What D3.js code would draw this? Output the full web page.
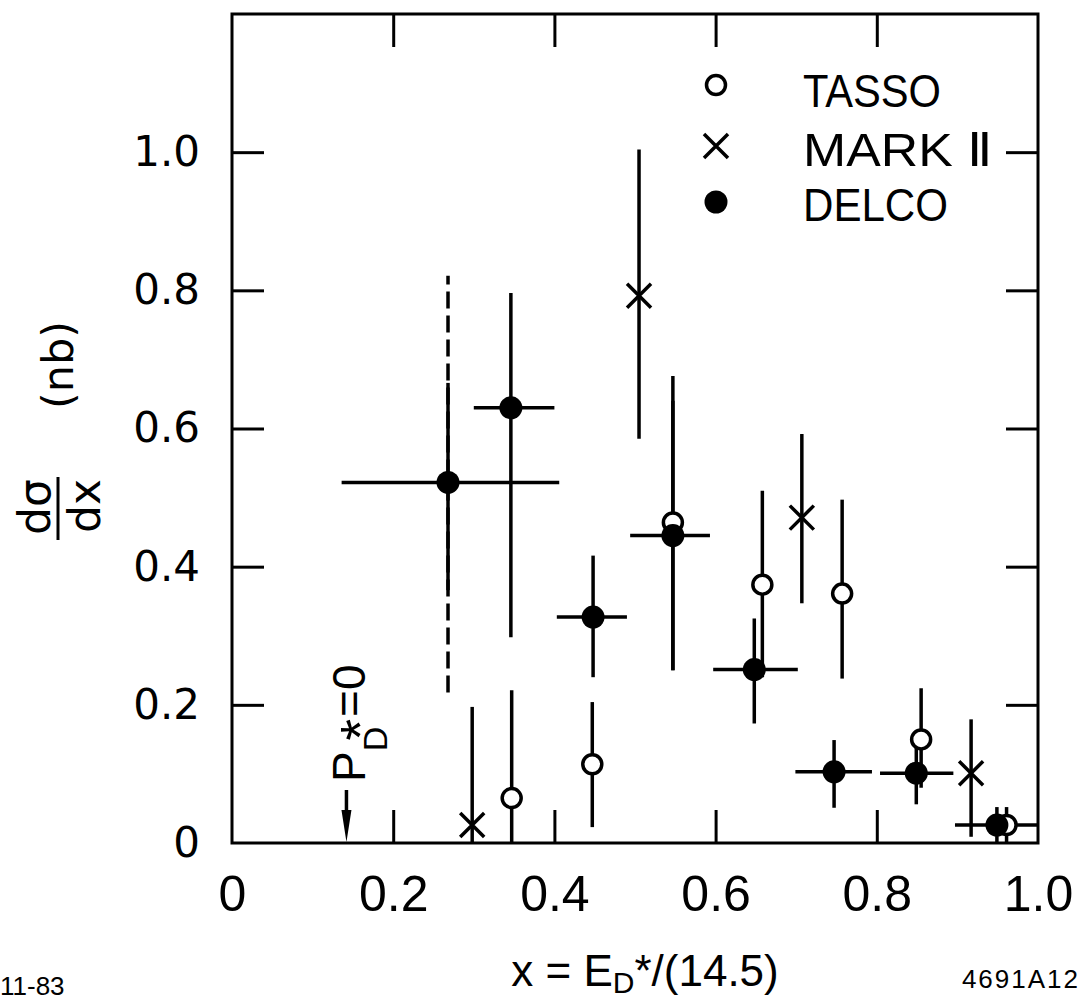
<!DOCTYPE html>
<html>
<head>
<meta charset="utf-8">
<script src="https://cdn.jsdelivr.net/npm/d3@7"></script>
<style>
  body { margin: 0; background: #fff; }
  text { fill: #000; }
</style>
</head>
<body>
<div id="chart"></div>
<script>
// tick values
var xTickVals = [0.2, 0.4, 0.6, 0.8];
var xLabelVals = [0, 0.2, 0.4, 0.6, 0.8, 1.0];
var yTickVals = [0.2, 0.4, 0.6, 0.8, 1.0];
var yLabelVals = [0, 0.2, 0.4, 0.6, 0.8, 1.0];

// TASSO (open circles)
var tassoX  = [0.347, 0.447, 0.547, 0.658, 0.757, 0.855, 0.961];
var tassoY  = [0.065, 0.114, 0.464, 0.374, 0.361, 0.150, 0.026];
var tassoLo = [0.0,   0.023, 0.25,  0.24,  0.238, 0.08,  0.0];
var tassoHi = [0.221, 0.204, 0.676, 0.51,  0.497, 0.224, 0.052];

// MARK II (crosses)
var markX  = [0.298, 0.505, 0.707, 0.917];
var markY  = [0.026, 0.792, 0.471, 0.101];
var markLo = [0.0,   0.585, 0.347, 0.009];
var markHi = [0.197, 1.004, 0.592, 0.179];

// DELCO (filled circles)
var delcoX   = [0.268, 0.346, 0.448, 0.547, 0.648, 0.747, 0.849, 0.949];
var delcoY   = [0.522, 0.630, 0.327, 0.445, 0.251, 0.103, 0.101, 0.026];
var delcoLo  = [0.366, 0.298, 0.240, 0.25,  0.173, 0.051, 0.056, 0.0];
var delcoHi  = [0.666, 0.796, 0.416, 0.64,  0.325, 0.149, 0.145, 0.052];
var delcoXLo = [0.136, 0.300, 0.403, 0.494, 0.597, 0.699, 0.804, 0.897];
var delcoXHi = [0.406, 0.400, 0.490, 0.593, 0.702, 0.794, 0.895, 1.0];
// dashed extension on the first DELCO point
var delcoDashLo = [0.218];
var delcoDashHi = [0.821];

var legendNames = ["TASSO", "MARK \u2161", "DELCO"];
var arrowX = 0.142;

var svgWidth = 1082, svgHeight = 1000;
var plotLeft = 232, plotRight = 1038, plotTop = 14, plotBottom = 843;

var svg = d3.select("#chart").append("svg")
  .attr("width", svgWidth)
  .attr("height", svgHeight);

var x = d3.scaleLinear().domain([0, 1]).range([plotLeft, plotRight]);
var y = d3.scaleLinear().domain([0, 1.2]).range([plotBottom, plotTop]);

var lw = 3.5;

// frame
svg.append("rect")
  .attr("x", plotLeft).attr("y", plotTop)
  .attr("width", plotRight - plotLeft).attr("height", plotBottom - plotTop)
  .attr("fill", "none").attr("stroke", "#000").attr("stroke-width", 3);

// inward ticks on all four sides
function tickAxis(axis, tx, ty) {
  var g = svg.append("g").attr("transform", "translate(" + tx + "," + ty + ")").call(axis);
  g.select(".domain").remove();
  g.selectAll("line").attr("stroke", "#000").attr("stroke-width", 3);
  return g;
}
tickAxis(d3.axisBottom(x).tickValues(xTickVals).tickSize(-33).tickFormat(""), 0, plotBottom);
tickAxis(d3.axisTop(x).tickValues(xTickVals).tickSize(-33).tickFormat(""), 0, plotTop);
tickAxis(d3.axisLeft(y).tickValues(yTickVals).tickSize(-32).tickFormat(""), plotLeft, 0);
tickAxis(d3.axisRight(y).tickValues(yTickVals).tickSize(-32).tickFormat(""), plotRight, 0);

// tick labels
var fmt = function(d) { return d === 0 ? "0" : d3.format(".1f")(d); };
var xl = svg.append("g").attr("transform", "translate(0," + plotBottom + ")")
  .call(d3.axisBottom(x).tickValues(xLabelVals).tickSize(0).tickPadding(32).tickFormat(fmt));
xl.select(".domain").remove();
xl.selectAll("text").attr("font-family", "Liberation Sans, Arial, sans-serif")
  .attr("font-size", 50).attr("fill", "#000");

var yl = svg.append("g").attr("transform", "translate(" + plotLeft + ",0)")
  .call(d3.axisLeft(y).tickValues(yLabelVals).tickSize(0).tickPadding(32).tickFormat(fmt));
yl.select(".domain").remove();
yl.selectAll("text").attr("font-family", "DejaVu Sans, sans-serif")
  .attr("font-size", 42).attr("fill", "#000");

// error bars
var bars = svg.append("g").attr("stroke", "#000").attr("stroke-width", lw).attr("fill", "none");

function vbars(xs, los, his, dash) {
  bars.selectAll(null).data(xs).enter().append("line")
    .attr("x1", d => x(d)).attr("x2", d => x(d))
    .attr("y1", (d, i) => y(los[i])).attr("y2", (d, i) => y(his[i]))
    .attr("stroke-dasharray", dash || null);
}
vbars([delcoX[0]], delcoDashLo, delcoDashHi, "17,7");
vbars(tassoX, tassoLo, tassoHi);
vbars(markX, markLo, markHi);
vbars(delcoX, delcoLo, delcoHi);
bars.selectAll(null).data(delcoX).enter().append("line")
  .attr("x1", (d, i) => x(delcoXLo[i])).attr("x2", (d, i) => x(delcoXHi[i]))
  .attr("y1", (d, i) => y(delcoY[i])).attr("y2", (d, i) => y(delcoY[i]));

// markers
function openCircle(g, cx, cy) {
  g.append("circle").attr("cx", cx).attr("cy", cy).attr("r", 9.5)
    .attr("fill", "#fff").attr("stroke", "#000").attr("stroke-width", lw);
}
function cross(g, cx, cy) {
  var s = 12;
  g.append("path")
    .attr("d", "M" + (cx - s) + "," + (cy - s) + "L" + (cx + s) + "," + (cy + s) +
               "M" + (cx - s) + "," + (cy + s) + "L" + (cx + s) + "," + (cy - s))
    .attr("stroke", "#000").attr("stroke-width", lw).attr("fill", "none");
}
function dot(g, cx, cy) {
  g.append("circle").attr("cx", cx).attr("cy", cy).attr("r", 11.5).attr("fill", "#000");
}

var marks = svg.append("g");
tassoX.forEach((d, i) => openCircle(marks, x(d), y(tassoY[i])));
markX.forEach((d, i) => cross(marks, x(d), y(markY[i])));
delcoX.forEach((d, i) => dot(marks, x(d), y(delcoY[i])));

// legend
var lg = svg.append("g");
openCircle(lg, 716, 85);
cross(lg, 716, 146);
dot(lg, 716, 202);
lg.selectAll("text").data(legendNames).enter().append("text")
  .attr("x", 803).attr("y", (d, i) => [107, 166, 221][i])
  .attr("font-family", "Liberation Sans, Arial, sans-serif")
  .attr("font-size", 46)
  .attr("textLength", (d, i) => [138, 190, 145][i])
  .attr("lengthAdjust", "spacingAndGlyphs")
  .text(d => d);

// threshold arrow
var ax = x(arrowX);
svg.append("line").attr("x1", ax).attr("x2", ax).attr("y1", 790).attr("y2", 815)
  .attr("stroke", "#000").attr("stroke-width", 3.5);
svg.append("path")
  .attr("d", "M" + (ax - 5) + ",810L" + (ax + 5) + ",810L" + ax + "," + (plotBottom - 1) + "Z")
  .attr("fill", "#000");

var pt = svg.append("text")
  .attr("transform", "translate(365,782) rotate(-90)")
  .attr("font-family", "Liberation Sans, Arial, sans-serif")
  .attr("font-size", 46);
pt.append("tspan").text("P");
pt.append("tspan").attr("font-size", 34).attr("dy", 22).text("D");
pt.append("tspan").attr("font-size", 56).attr("dx", -14).attr("dy", -8).text("*");
pt.append("tspan").attr("dx", 2).attr("dy", -14).text("=0");

// y axis title
var yfont = "DejaVu Sans, sans-serif";
svg.append("text").attr("transform", "translate(50,507) rotate(-90)")
  .attr("text-anchor", "middle").attr("font-family", yfont).attr("font-size", 44)
  .text("d\u03C3");
svg.append("text").attr("transform", "translate(100,506) rotate(-90)")
  .attr("text-anchor", "middle").attr("font-family", yfont).attr("font-size", 44)
  .text("dx");
svg.append("line").attr("x1", 58).attr("x2", 58).attr("y1", 477).attr("y2", 540)
  .attr("stroke", "#000").attr("stroke-width", 3);
svg.append("text").attr("transform", "translate(73,365) rotate(-90)")
  .attr("text-anchor", "middle").attr("font-family", yfont).attr("font-size", 43)
  .text("(nb)");

// x axis title
var xt = svg.append("text").attr("x", 645).attr("y", 986)
  .attr("text-anchor", "middle")
  .attr("font-family", "Liberation Sans, Arial, sans-serif").attr("font-size", 44);
xt.append("tspan").text("x = E");
xt.append("tspan").attr("font-size", 30).attr("dy", 7).text("D");
xt.append("tspan").attr("dy", -7).text("*/(14.5)");

// corner notes
svg.append("text").attr("x", 0).attr("y", 995)
  .attr("font-family", "Liberation Sans, Arial, sans-serif").attr("font-size", 26)
  .text("11-83");
svg.append("text").attr("x", 1080).attr("y", 988).attr("text-anchor", "end")
  .attr("font-family", "Liberation Sans, Arial, sans-serif").attr("font-size", 26)
  .attr("letter-spacing", 2)
  .text("4691A12");
</script>
</body>
</html>
